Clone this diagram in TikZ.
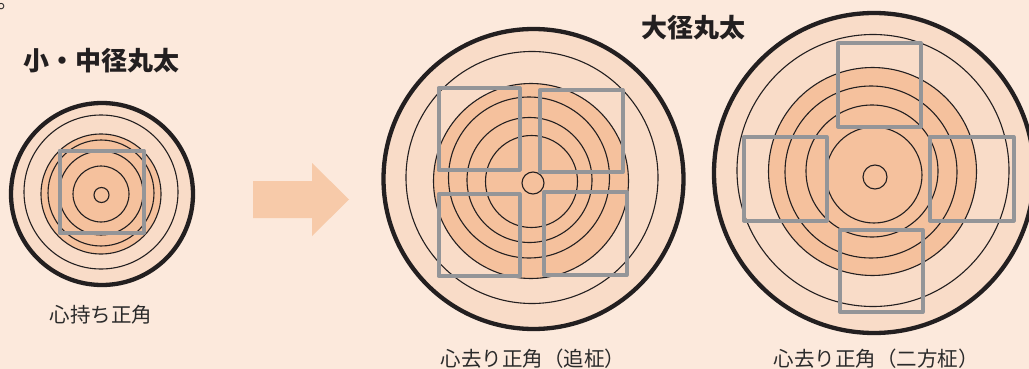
\documentclass[tikz,border=0pt]{standalone}
\usepackage{fontspec}
\newfontfamily\cjk{Noto Sans CJK JP}
\definecolor{bg}{HTML}{FCE9DC}
\definecolor{sapwood}{HTML}{F9DCC8}
\definecolor{heartwood}{HTML}{F5C19D}
\definecolor{arrowc}{HTML}{F7CAA9}
\definecolor{ink}{HTML}{231F20}
\definecolor{txt}{HTML}{2B2B2B}
\definecolor{timberc}{HTML}{949598}
\begin{document}
\begin{tikzpicture}[x=1pt,y=-1pt,
  bark/.style={draw=ink, line width=4.3pt, fill=sapwood},
  ring/.style={draw=ink, line width=1.1pt},
  heart/.style={draw=ink, line width=1.1pt, fill=heartwood},
  timber/.style={draw=timberc, line width=4pt, line join=round},
  titletext/.style={font=\cjk\bfseries\fontsize{26}{30}\selectfont, text=ink, inner sep=0pt},
  captext/.style={font=\cjk\fontsize{20.5}{24}\selectfont, text=txt, inner sep=0pt}]
\path[fill=bg] (0,0) rectangle (1029,369);
\useasboundingbox (0,0) rectangle (1029,369);
\clip (0,0) rectangle (1029,369);

% stray mark at top-left
\node[font=\cjk\fontsize{21}{24}\selectfont, text=txt, inner sep=0pt, anchor=base west] (dot) at (-3,9) {。};

% ---- small log ----
\draw[bark] (102,194) circle[radius=91pt];
\draw[ring] (101,192) circle[radius=77pt];
\draw[heart] (101,194) circle[radius=60pt];
\draw[ring] (101,193) circle[radius=53pt];
\draw[ring] (101,193) circle[radius=42pt];
\draw[ring] (101,194) circle[radius=28pt];
\draw[ring] (101.5,195) circle[radius=7.5pt];
\draw[timber] (59.5,150.5) rectangle (143.5,232.5);

% ---- arrow ----
\fill[arrowc] (253,181) -- (312,181) -- (312,163) -- (349,199.5) -- (312,236) -- (312,218) -- (253,218) -- cycle;

% ---- middle log ----
\draw[bark] (533.5,179) circle[radius=150pt];
\draw[ring] (532,177.5) circle[radius=126pt];
\draw[heart] (531,181) circle[radius=97.5pt];
\draw[ring] (529,177.5) circle[radius=80.5pt];
\draw[ring] (529.5,180) circle[radius=62.5pt];
\draw[ring] (531.5,181.5) circle[radius=46pt];
\draw[ring] (533,183) circle[radius=11pt];
\draw[timber] (438.5,88) rectangle (519.5,169.5);
\draw[timber] (540,90) rectangle (622.5,172);
\draw[timber] (438.5,194) rectangle (519.5,276);
\draw[timber] (544,192) rectangle (626.5,275);

% ---- right log ----
\draw[bark] (874,173) circle[radius=160pt];
\draw[ring] (873,170.5) circle[radius=136pt];
\draw[heart] (872.5,171.5) circle[radius=104pt];
\draw[ring] (871,172) circle[radius=86pt];
\draw[ring] (872,171) circle[radius=66pt];
\draw[ring] (874,175) circle[radius=48pt];
\draw[ring] (875,177) circle[radius=12pt];
\draw[timber] (838,43) rectangle (920.5,126.5);
\draw[timber] (744,137) rectangle (826.5,220.5);
\draw[timber] (930,137) rectangle (1013.5,220.5);
\draw[timber] (840,230) rectangle (922.5,312);

% ---- texts ----
\node[titletext] (title1) at (101.5,61) {小・中径丸太};
\node[titletext] (title2) at (693.5,27.5) {大径丸太};
\node[captext] (cap1) at (101,315) {心持ち正角};
\node[captext] (cap2) at (533,359) {心去り正角（追柾）};
\node[captext] (cap3) at (876,359) {心去り正角（二方柾）};
\end{tikzpicture}
\end{document}
